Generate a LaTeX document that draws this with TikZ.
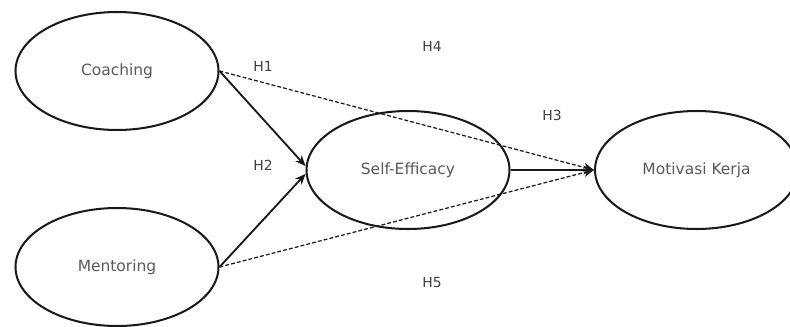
\documentclass[tikz,border=0pt]{standalone}
\usepackage{fontspec}
\setmainfont{DejaVu Sans}
\usepackage{xcolor}
\usetikzlibrary{arrows.meta,shapes.geometric}

\begin{document}
\begin{tikzpicture}[
  var/.style={draw=black!90,line width=1.15pt,ellipse,minimum width=4.06cm,minimum height=2.36cm,inner sep=0pt,
    font=\fontsize{8.8}{10}\selectfont,text=black!65},
  hyp/.style={font=\fontsize{7.9}{9}\selectfont,text=black!75},
  direct/.style={draw=black!90,line width=1.05pt,-{Stealth[length=6pt,width=5pt]}},
  indirect/.style={draw=black!90,line width=0.7pt,dash pattern=on 2.2pt off 1.2pt,-{Stealth[length=6pt,width=5pt]}}]
\useasboundingbox (0,0) rectangle (15.8,6.52);
\node[var] (coach) at (2.34,5.10) {Coaching};
\node[var] (mentor) at (2.34,1.18) {Mentoring};
\node[var] (selfeff) at (8.16,3.12) {Self-Efficacy};
\node[var] (motiv) at (13.93,3.12) {Motivasi Kerja};
\draw[direct] (coach.east) -- ([yshift=0.08cm]selfeff.west);
\draw[direct] (mentor.east) -- ([yshift=-0.08cm]selfeff.west);
\draw[indirect] (coach.east) -- (motiv.west);
\draw[indirect] (mentor.east) -- (motiv.west);
\draw[direct] (selfeff.east) -- (motiv.west);
\node[hyp] (h1) at (5.26,5.20) {H1};
\node[hyp] (h2) at (5.26,3.22) {H2};
\node[hyp] (h3) at (11.04,4.22) {H3};
\node[hyp] (h4) at (8.64,5.60) {H4};
\node[hyp] (h5) at (8.64,0.86) {H5};
\end{tikzpicture}
\end{document}
